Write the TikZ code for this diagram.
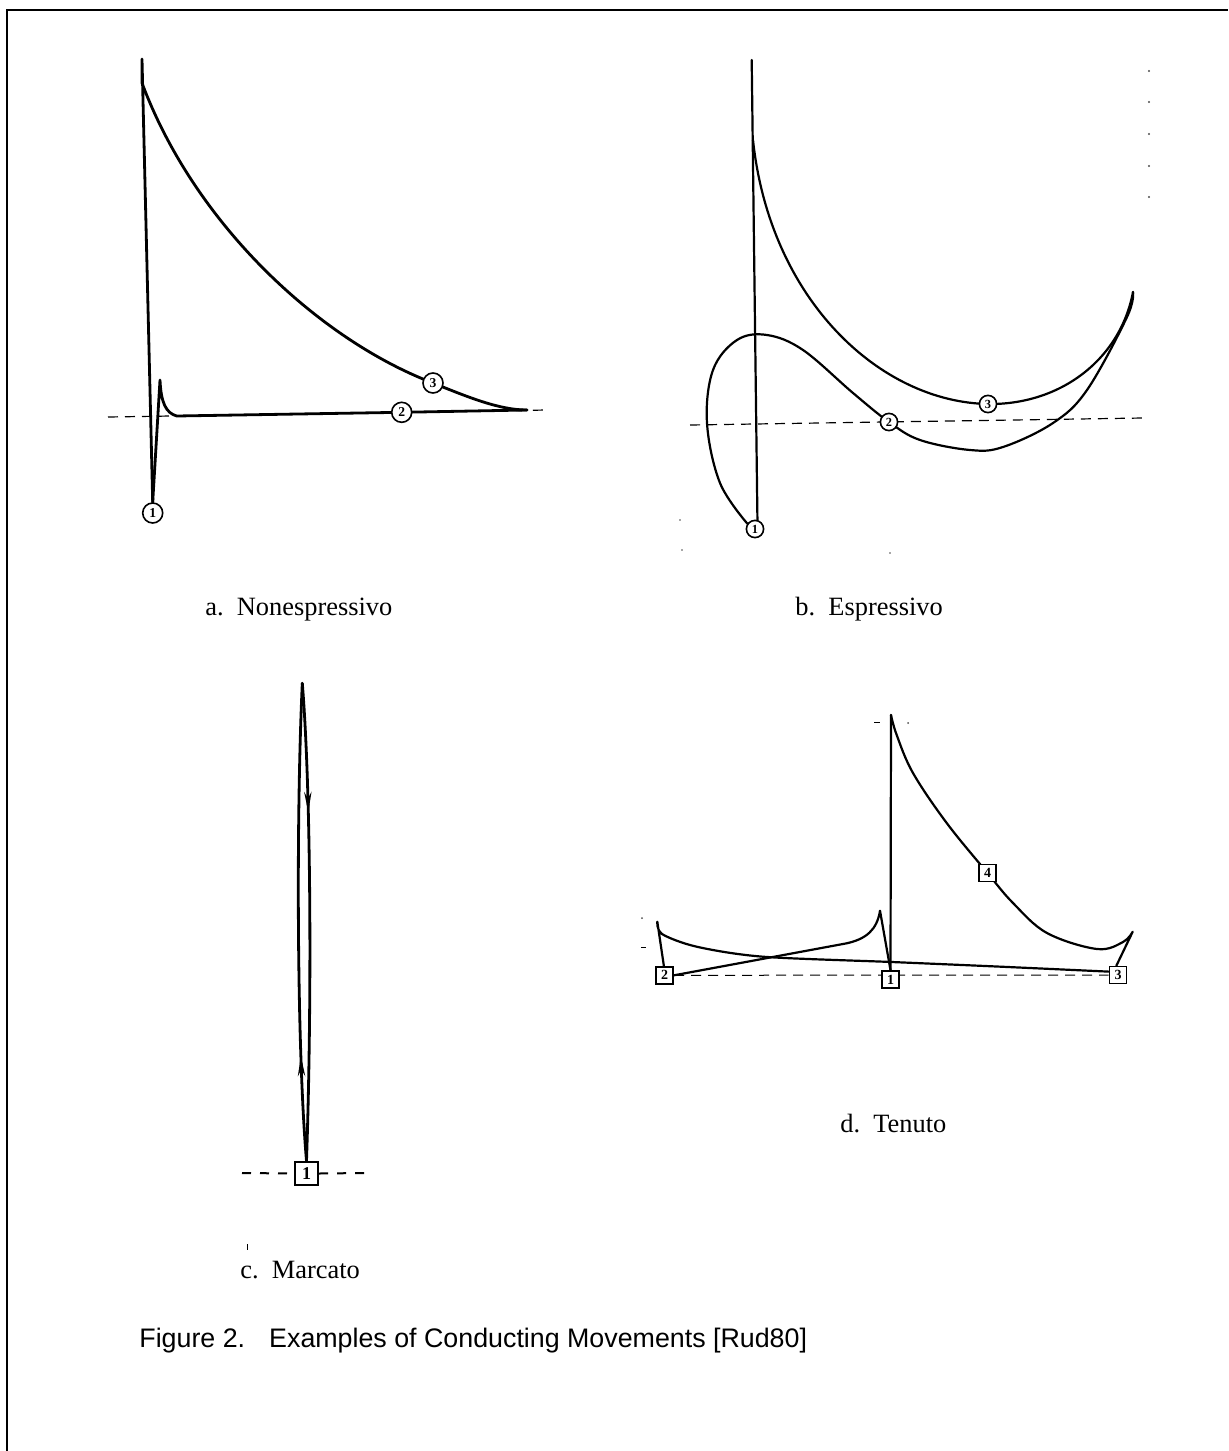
\documentclass[tikz,border=0pt]{standalone}
\usepackage{fontspec}
\setmainfont{Liberation Serif}
\setsansfont{Liberation Sans}
\usetikzlibrary{backgrounds,decorations.markings,arrows.meta}
\begin{document}
\begin{tikzpicture}[x=0.5pt,y=-0.5pt,
  curve/.style={line width=1.4pt, line join=round, line cap=round},
  thincurve/.style={line width=1.1pt, line join=round, line cap=round},
  refline/.style={dash pattern=on 5pt off 3.5pt, line width=0.6pt},
  cnum/.style={circle, draw, line width=0.8pt, fill=white, minimum size=10pt, inner sep=0pt, font=\fontsize{6.8}{7}\selectfont\bfseries},
  cnumsmall/.style={cnum, minimum size=8.6pt, font=\fontsize{6.2}{7}\selectfont\bfseries},
  sqbig/.style={rectangle, draw, line width=1.1pt, fill=white, minimum size=11.5pt, inner sep=0pt, font=\fontsize{9}{10}\selectfont\bfseries},
  sqsmall/.style={rectangle, draw, line width=0.8pt, fill=white, minimum size=8.5pt, inner sep=0pt, font=\fontsize{7}{8}\selectfont\bfseries},
  lbl/.style={anchor=base west, inner sep=0pt, font=\fontsize{13.2}{16}\selectfont},
  figcap/.style={anchor=base west, inner sep=0pt, font=\sffamily\fontsize{13.4}{16}\selectfont},
  speck/.style={fill=black!70},
  midarrow/.style={postaction={decorate}, decoration={markings, mark=at position #1 with {\arrow{Stealth[length=10pt,width=3.6pt]}}}}
]
\useasboundingbox (0,0) rectangle (1228,1451);
% frame (top and left edges)
\coordinate (fa) at (7,1451);
\coordinate (fb) at (7,10);
\coordinate (fc) at (1228,10);
\draw[line width=0.8pt] (fa) -- (fb) -- (fc);

% ===================== a. Nonespressivo =====================
\node[cnum] (a1) at (152.7,513) {1};
\node[cnum] (a2) at (401.7,412.3) {2};
\node[cnum] (a3) at (433,383) {3};
\coordinate (atop) at (142,59);
\coordinate (abr) at (142,83);
\coordinate (aend) at (527,410);
\coordinate (apeak) at (160,380);
\coordinate (ahook) at (176.7,416);
\coordinate (adl) at (108,417);
\coordinate (adr) at (547,410);
\begin{pgfonlayer}{background}
\draw[refline] (adl) -- (adr);
\draw[curve] (a1.north) -- (atop) -- (abr) .. controls (195,225) and (320,340) .. (a3.center) .. controls (470,398) and (500,410) .. (aend);
\draw[curve] (aend) -- (a2) -- (ahook) .. controls (166,413) and (161,403) .. (apeak) -- (a1.north);
\end{pgfonlayer}
\node[lbl] (la) at (205,615) {a.\ \ Nonespressivo};

% ===================== b. Espressivo =====================
\node[cnumsmall] (b1) at (755,529) {1};
\node[cnumsmall] (b2) at (889,422) {2};
\node[cnumsmall] (b3) at (988,404) {3};
\coordinate (btop) at (751.7,60);
\coordinate (bbr) at (753,140);
\coordinate (btip) at (1133,292);
\coordinate (bdl) at (690,425);
\coordinate (bdr) at (1143,418);
\begin{pgfonlayer}{background}
\draw[refline] (bdl) -- (bdr);
\draw[thincurve] (b1.75) -- (btop);
\draw[thincurve] (bbr) .. controls (770,300) and (880,402) .. (b3.center) .. controls (1060,405) and (1120,360) .. (btip);
\draw[thincurve] plot[smooth,tension=0.6] coordinates {(btip) (1127,317) (1087,390) (1053,423) (1003,447) (970,450) (920,440) (b2) (853,393) (803,350) (767,335) (737,340) (713,370) (707,423) (720,483) (b1.145)};
\end{pgfonlayer}
\node[lbl] (lb) at (795,615) {b.\ \ Espressivo};
\foreach \yy in {71,102,134,166,197} \fill[speck] (1149,\yy) circle (0.6pt);
\fill[speck] (680,520) circle (0.4pt);
\fill[speck] (682,550) circle (0.4pt);
\fill[speck] (890,553) circle (0.4pt);

% ===================== c. Marcato =====================
\node[sqbig] (c1) at (306.5,1173.5) {1};
\coordinate (ctop) at (302.3,683.3);
\coordinate (cdl) at (242,1173);
\coordinate (cdr) at (365,1173);
\begin{pgfonlayer}{background}
\draw[curve, midarrow=0.27] (ctop) .. controls (311,790) and (312,1000) .. (c1.north);
\draw[curve, midarrow=0.22] (c1.north) .. controls (297,1050) and (296,820) .. (ctop);
\end{pgfonlayer}
\draw[dash pattern=on 4.5pt off 4.5pt, line width=1pt] (cdl) -- (c1.west);
\draw[dash pattern=on 4.5pt off 4.5pt, line width=1pt] (c1.east) -- (cdr);
\coordinate (ctk1) at (247,1244);
\coordinate (ctk2) at (247,1250);
\draw[line width=0.5pt] (ctk1) -- (ctk2);
\node[lbl] (lc) at (240,1278) {c.\ \ Marcato};

% ===================== d. Tenuto =====================
\node[sqsmall] (t1) at (890.5,979.5) {1};
\node[sqsmall] (t2) at (664.7,975.3) {2};
\node[sqsmall] (t3) at (1118,975) {3};
\node[sqsmall] (t4) at (987.5,873) {4};
\coordinate (ttop) at (891,715);
\coordinate (trtip) at (1132.7,931.7);
\coordinate (tltip) at (657.3,921.7);
\coordinate (tmtip) at (880,910.7);
\begin{pgfonlayer}{background}
\draw[refline, line width=0.5pt] (t2.east) -- (t3.west);
\draw[thincurve] (t1.north) -- (ttop);
\draw[thincurve] plot[smooth,tension=0.6] coordinates {(ttop) (896.7,735) (913,773) (946.7,823) (t4) (1013,903) (1047,933) (1097,949) (1123,942) (trtip)} -- (t3.100);
\draw[thincurve] plot[smooth,tension=0.5] coordinates {(t3.160) (996.7,966.5) (891.7,962) (763,956.7) (696.7,946.7) (662,934) (tltip)} -- (t2.95);
\draw[thincurve] (t2.east) -- (846.7,943.3) .. controls (866,939) and (877,930) .. (tmtip) -- (t1.north);
\end{pgfonlayer}
\draw[line width=0.5pt] (874,722) -- (880,722);
\fill[speck] (908,723) circle (0.5pt);
\draw[line width=0.5pt] (641,947) -- (646,947);
\fill[speck] (642,918) circle (0.5pt);
\node[lbl] (ld) at (840,1132) {d.\ \ Tenuto};

% ===================== caption =====================
\node[figcap] (fig) at (139,1347) {Figure 2.\hspace{0.9em}Examples of Conducting Movements [Rud80]};
\end{tikzpicture}
\end{document}
